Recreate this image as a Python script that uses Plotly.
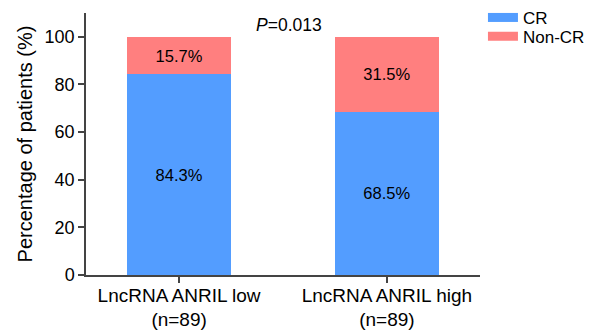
import plotly.graph_objects as go

categories = ["LncRNA ANRIL low<br>(n=89)", "LncRNA ANRIL high<br>(n=89)"]
cr_values = [84.3, 68.5]
noncr_values = [15.7, 31.5]
series_names = ["CR", "Non-CR"]
colors = ["#539DFF", "#FF7F7F"]
p_label = "<i>P</i>=0.013"

FONT = "Liberation Sans, Arial, sans-serif"
AXIS_COLOR = "#444444"

fig = go.Figure()
for name, vals, col in [(series_names[0], cr_values, colors[0]),
                        (series_names[1], noncr_values, colors[1])]:
    fig.add_trace(go.Bar(
        x=categories, y=vals, name=name, marker=dict(color=col, line=dict(width=0)),
        width=0.5, text=[f"{v:.1f}%" for v in vals], textposition="inside",
        insidetextanchor="middle", textfont=dict(family=FONT, size=16.5, color="black"),
        showlegend=False, hoverinfo="skip",
    ))
# legend entries with wide swatches (one legend per entry for tight spacing)
for name, col, lg in zip(series_names, colors, ["legend", "legend2"]):
    fig.add_trace(go.Scatter(x=[None], y=[None], mode="lines", name=name,
                             line=dict(color=col, width=9), showlegend=True, legend=lg))

legend_common = dict(xanchor="left", yanchor="top", font=dict(family=FONT, size=17),
                     bgcolor="rgba(0,0,0,0)")
fig.update_layout(
    barmode="stack",
    width=588, height=328,
    margin=dict(l=78, r=116, t=5, b=61, pad=0, autoexpand=False),
    plot_bgcolor="white", paper_bgcolor="white",
    font=dict(family=FONT, color="black"),
    legend=dict(x=1.0075, y=1.05, **legend_common),
    legend2=dict(x=1.0075, y=0.978, **legend_common),
    annotations=[dict(text=p_label, x=0.515, y=1.0, xref="paper", yref="paper",
                      xanchor="center", yanchor="middle", yshift=-12, showarrow=False,
                      font=dict(family=FONT, size=17.5, color="black"))],
)
fig.update_xaxes(
    range=[-0.448, 1.448], showline=True, linecolor=AXIS_COLOR, linewidth=1.5,
    ticks="outside", ticklen=6, tickwidth=1.5, tickcolor=AXIS_COLOR,
    tickfont=dict(family=FONT, size=19, color="black"), showgrid=False, zeroline=False,
    ticklabelstandoff=-4,
)
fig.update_yaxes(
    range=[0, 110], tickvals=[0, 20, 40, 60, 80, 100], showline=True,
    linecolor=AXIS_COLOR, linewidth=1.5, ticks="outside", ticklen=6, tickwidth=1.5,
    tickcolor=AXIS_COLOR, tickfont=dict(family=FONT, size=18, color="black"),
    title=dict(text="Percentage of patients (%)", font=dict(family=FONT, size=20, color="black"), standoff=7),
    showgrid=False, zeroline=False,
)

fig.write_html("out.html")
